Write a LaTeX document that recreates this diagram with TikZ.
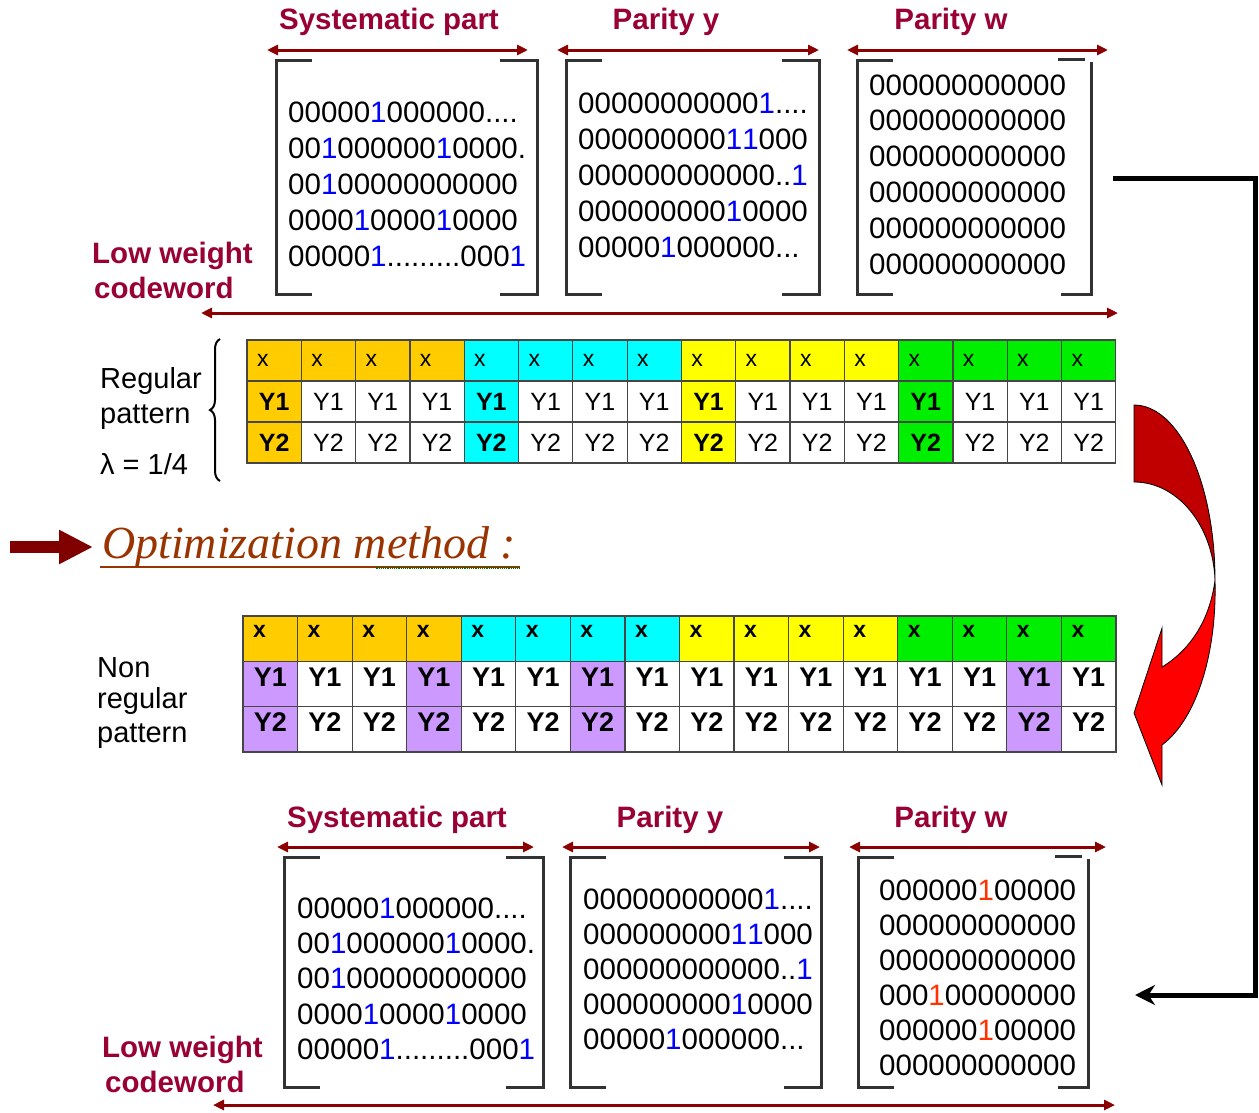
\documentclass[tikz,border=0pt]{standalone}
\usepackage{fontspec}
\setmainfont{Liberation Sans}
\newfontfamily\optfont{Liberation Serif}
\usetikzlibrary{arrows.meta,decorations.pathreplacing}
\definecolor{labred}{RGB}{153,0,51}
\definecolor{arrred}{RGB}{139,0,0}
\definecolor{blkred}{RGB}{128,0,0}
\definecolor{optbrown}{RGB}{153,51,0}
\definecolor{oneblue}{RGB}{0,0,255}
\definecolor{onered}{RGB}{255,51,0}
\definecolor{brkgray}{RGB}{50,50,50}
\definecolor{cellgray}{RGB}{70,70,70}
\definecolor{cOrange}{RGB}{255,204,0}
\definecolor{cCyan}{RGB}{0,255,255}
\definecolor{cYellow}{RGB}{255,255,0}
\definecolor{cGreen}{RGB}{0,238,0}
\definecolor{cPurple}{RGB}{204,153,255}
\definecolor{crvdark}{RGB}{192,0,0}
\newcommand\bone{\textcolor{oneblue}{1}}
\newcommand\rone{\textcolor{onered}{1}}

\begin{document}
\begin{tikzpicture}[x=1pt,y=-1pt,
  lbl/.style={text=labred, inner sep=0pt, anchor=base, font=\bfseries\fontsize{29.5}{32}\selectfont},
  mrow/.style={anchor=west, inner sep=0pt, font=\fontsize{29.5}{32}\selectfont},
  side/.style={anchor=base west, inner sep=0pt, font=\fontsize{29}{30}\selectfont},
  span/.style={{Triangle[length=11pt,width=10pt]}-{Triangle[length=11pt,width=10pt]}, draw=arrred, line width=3pt},
  brk/.style={draw=brkgray, line width=3pt, line join=miter},
  cell/.style={draw=cellgray, line width=1.2pt, inner sep=0pt, minimum width=54.3pt, minimum height=41pt, font=\fontsize{25}{26}\selectfont},
  ncell/.style={cell, minimum width=54.56pt, minimum height=45.3pt, text depth=14pt, font=\bfseries\fontsize{27}{28}\selectfont},
  xcell/.style={text width=34.3pt, align=left, inner xsep=10pt},
  link/.style={-{Stealth[length=20pt,width=20pt]}, line width=5pt, line join=miter},
  blk/.style={-{Triangle[length=34pt,width=32pt]}, line width=12pt, draw=blkred},
]
\useasboundingbox (0,0) rectangle (1259,1112);

% labels over the matrices
\node[lbl] (sysT) at (389,29) {Systematic part};
\node[lbl] (pyT) at (666,29) {Parity y};
\node[lbl] (pwT) at (951,29) {Parity w};
\node[lbl] (sysB) at (397,827) {Systematic part};
\node[lbl] (pyB) at (670,827) {Parity y};
\node[lbl] (pwB) at (951,827) {Parity w};
\node[lbl, anchor=base west] (lowT) at (92,263) {Low weight};
\node[lbl, anchor=base west] (codT) at (94,298) {codeword};
\node[lbl, anchor=base west] (lowB) at (102,1057) {Low weight};
\node[lbl, anchor=base west] (codB) at (105,1092) {codeword};

% span arrows
\foreach \a/\b/\y [count=\n] in {267/528/50, 557/819/50, 847/1108/50, 201/1118/313,
    277/534/847, 562/820/847, 849/1106/847, 213/1115/1105} {
  \coordinate (sl\n) at (\a,\y);
  \coordinate (sr\n) at (\b,\y);
  \draw[span] (sl\n) -- (sr\n);
}

% matrix brackets
\foreach \l/\r/\t/\b in {276/537/60/294, 566/819/60/294, 284/543/857/1087, 570/821/857/1087} {
  \draw[brk] (\l+36,\t) -| (\l,\b) -- (\l+36,\b);
  \draw[brk] (\r-37,\t) -| (\r,\b) -- (\r-37,\b);
}
\foreach \l/\r/\t/\b in {857/1091/60/294, 858/1088/857/1087} {
  \draw[brk] (\l+36,\t) -| (\l,\b) -- (\l+36,\b);
  \draw[brk] (\r-33,\t-1) -- (\r-6,\t-1);
  \draw[brk] (\r,\t+2) -- (\r,\b) -- (\r-30,\b);
}

% top matrices
\node[mrow] (sa1) at (288,112) {00000\bone000000....};
\node[mrow] (sa2) at (288,148) {00\bone000000\bone0000.};
\node[mrow] (sa3) at (288,184) {00\bone00000000000};
\node[mrow] (sa4) at (288,220) {0000\bone0000\bone0000};
\node[mrow] (sa5) at (288,256) {00000\bone.........000\bone};
\node[mrow] (ya1) at (578,103) {00000000000\bone....};
\node[mrow] (ya2) at (578,139) {000000000\bone\bone000};
\node[mrow] (ya3) at (578,175) {000000000000..\bone};
\node[mrow] (ya4) at (578,211) {000000000\bone0000};
\node[mrow] (ya5) at (578,247) {00000\bone000000...};
\foreach \k in {1,...,6}
  \node[mrow] (wa\k) at (869,{85+35.8*(\k-1)}) {000000000000};

% bottom matrices
\node[mrow] (sb1) at (297,908) {00000\bone000000....};
\node[mrow] (sb2) at (297,943) {00\bone000000\bone0000.};
\node[mrow] (sb3) at (297,978) {00\bone00000000000};
\node[mrow] (sb4) at (297,1014) {0000\bone0000\bone0000};
\node[mrow] (sb5) at (297,1049) {00000\bone.........000\bone};
\node[mrow] (yb1) at (583,899) {00000000000\bone....};
\node[mrow] (yb2) at (583,934) {000000000\bone\bone000};
\node[mrow] (yb3) at (583,969) {000000000000..\bone};
\node[mrow] (yb4) at (583,1004) {000000000\bone0000};
\node[mrow] (yb5) at (583,1039) {00000\bone000000...};
\node[mrow] (wb1) at (879,890) {000000\rone00000};
\node[mrow] (wb2) at (879,925) {000000000000};
\node[mrow] (wb3) at (879,960) {000000000000};
\node[mrow] (wb4) at (879,995) {000\rone00000000};
\node[mrow] (wb5) at (879,1030) {000000\rone00000};
\node[mrow] (wb6) at (879,1065) {000000000000};

% regular pattern
\foreach \c [count=\g from 0] in {cOrange,cCyan,cYellow,cGreen}
  \foreach \j in {1,...,4} {
    \pgfmathtruncatemacro\i{4*\g+\j}
    \pgfmathsetmacro\xr{247+54.3*(\i-0.5)}
    \ifnum\j=1 \edef\lf{\c}\def\lw{\bfseries}\else\def\lf{white}\def\lw{}\fi
    \node[cell, xcell, fill=\c, font=\fontsize{23}{24}\selectfont] (ra\i) at (\xr,360.5) {x};
    \node[cell, fill=\lf, font=\lw\fontsize{25}{26}\selectfont] (rb\i) at (\xr,401.5) {Y1};
    \node[cell, fill=\lf, font=\lw\fontsize{25}{26}\selectfont] (rc\i) at (\xr,442.5) {Y2};
  }
\coordinate (brb) at (220,481);
\coordinate (brt) at (220,339);
\draw[decorate, decoration={brace, amplitude=10pt}, line width=2pt] (brb) -- (brt);
\node[side] (reg1) at (100,388) {Regular};
\node[side] (reg2) at (100,423) {pattern};
\node[side] (reg3) at (100,474) {λ = 1/4};

% optimization
\coordinate (bka) at (10,547);
\coordinate (bkb) at (93,547);
\draw[blk] (bka) -- (bkb);
\node[anchor=base west, inner sep=0pt, text=optbrown, font=\optfont\itshape\fontsize{46}{50}\selectfont] (opt) at (102,558) {Optimization method :};
\draw[optbrown, line width=2.5pt] ([xshift=-2pt,yshift=-9pt]opt.base west) -- ([xshift=4pt,yshift=-9pt]opt.base east);
\draw[green!45!black, line width=1.2pt, densely dotted] ([xshift=-140pt,yshift=-10pt]opt.base east) -- ([xshift=4pt,yshift=-10pt]opt.base east);

% non regular pattern
\foreach \c [count=\g from 0] in {cOrange,cCyan,cYellow,cGreen}
  \foreach \j in {1,...,4} {
    \pgfmathtruncatemacro\i{4*\g+\j}
    \pgfmathtruncatemacro\pur{(\i==1)||(\i==4)||(\i==7)||(\i==15)}
    \pgfmathsetmacro\xn{243+54.56*(\i-0.5)}
    \ifnum\pur=1 \def\pf{cPurple}\else\def\pf{white}\fi
    \node[ncell, xcell, fill=\c, font=\bfseries\fontsize{23}{24}\selectfont] (na\i) at (\xn,638.7) {x};
    \node[ncell, fill=\pf] (nb\i) at (\xn,684) {Y1};
    \node[ncell, fill=\pf] (nc\i) at (\xn,729.3) {Y2};
  }
\node[side] (non1) at (97,677) {Non};
\node[side] (non2) at (97,708) {regular};
\node[side] (non3) at (97,742) {pattern};

% curved arrow
\filldraw[fill=crvdark, draw=black, line width=0.8pt] (1134,405) .. controls (1179,405) and (1215,483) .. (1215,580)
  .. controls (1213,526) and (1178,482) .. (1134,482) -- cycle;
\filldraw[fill=red, draw=black, line width=0.8pt] (1215,580) .. controls (1217,650) and (1198,718) .. (1162,745)
  -- (1162,785) -- (1134,713) -- (1162,628) -- (1162,667) .. controls (1190,650) and (1210,620) .. (1215,580) -- cycle;

% connector
\coordinate (wout) at (1113,178);
\coordinate (win) at (1135,995);
\draw[link] (wout) -- (1255,178) |- (win);
\end{tikzpicture}
\end{document}
